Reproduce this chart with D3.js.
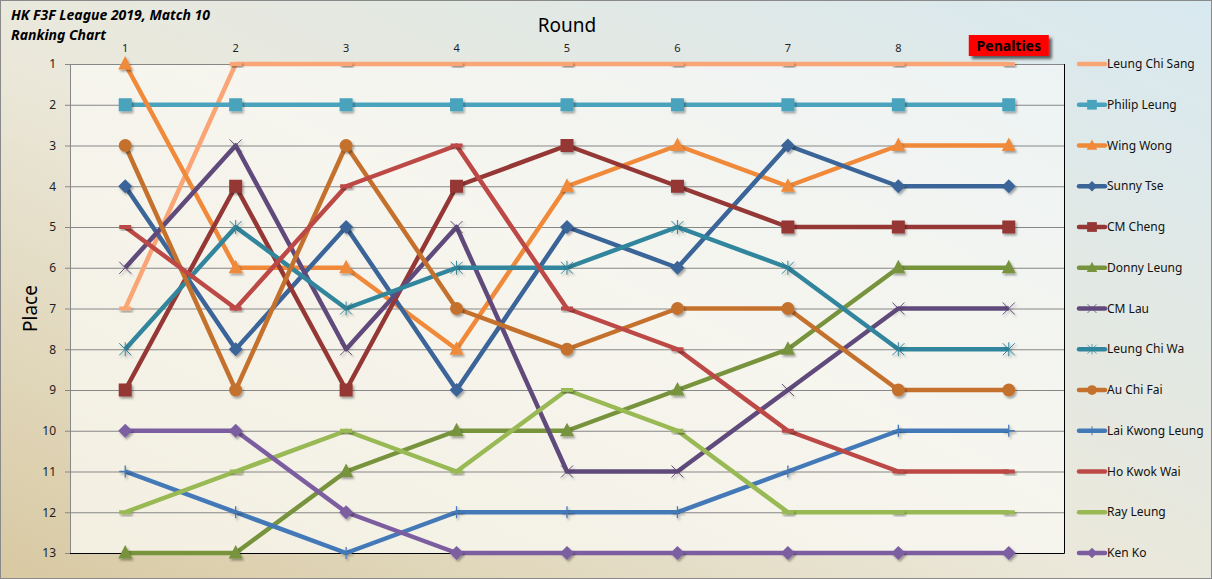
<!DOCTYPE html>
<meta charset="utf-8">
<script src="https://d3js.org/d3.v7.min.js"></script>
<style>
  body { margin: 0; }
  text { font-family: "Noto Sans", "DejaVu Sans", sans-serif; }
</style>
<div id="chart"></div>
<script>

// rounds shown along the top
var rounds = ["1", "2", "3", "4", "5", "6", "7", "8", "Penalties"]

// pilots, in legend order
var pilots = ["Leung Chi Sang", "Philip Leung", "Wing Wong", "Sunny Tse", "CM Cheng", "Donny Leung",
  "CM Lau", "Leung Chi Wa", "Au Chi Fai", "Lai Kwong Leung", "Ho Kwok Wai", "Ray Leung", "Ken Ko"]

// place after each round (last value = after penalties)
var leungChiSang  = [7, 1, 1, 1, 1, 1, 1, 1, 1]
var philipLeung   = [2, 2, 2, 2, 2, 2, 2, 2, 2]
var wingWong      = [1, 6, 6, 8, 4, 3, 4, 3, 3]
var sunnyTse      = [4, 8, 5, 9, 5, 6, 3, 4, 4]
var cmCheng       = [9, 4, 9, 4, 3, 4, 5, 5, 5]
var donnyLeung    = [13, 13, 11, 10, 10, 9, 8, 6, 6]
var cmLau         = [6, 3, 8, 5, 11, 11, 9, 7, 7]
var leungChiWa    = [8, 5, 7, 6, 6, 5, 6, 8, 8]
var auChiFai      = [3, 9, 3, 7, 8, 7, 7, 9, 9]
var laiKwongLeung = [11, 12, 13, 12, 12, 12, 11, 10, 10]
var hoKwokWai     = [5, 7, 4, 3, 7, 8, 10, 11, 11]
var rayLeung      = [12, 11, 10, 11, 9, 10, 12, 12, 12]
var kenKo         = [10, 10, 12, 13, 13, 13, 13, 13, 13]

var places = [1, 2, 3, 4, 5, 6, 7, 8, 9, 10, 11, 12, 13]

var seriesValues = [leungChiSang, philipLeung, wingWong, sunnyTse, cmCheng, donnyLeung,
  cmLau, leungChiWa, auChiFai, laiKwongLeung, hoKwokWai, rayLeung, kenKo]

var colors = ["#f9a575", "#4aa3bd", "#f08a3a", "#3b6598", "#953735", "#77933c",
  "#604a7b", "#31859c", "#c5712e", "#4479b8", "#bc4946", "#98b954", "#7c5ea0"]
var markers = ["dash", "square", "triangle", "diamond", "square", "triangle",
  "x", "star", "circle", "plus", "dash", "dash", "diamond"]

var width = 1212, height = 579
var plot = {left: 70, right: 1064, top: 64, bottom: 553}

var svg = d3.select("#chart").append("svg")
  .attr("width", width)
  .attr("height", height)

var defs = svg.append("defs")

// chart background
var bg = defs.append("linearGradient").attr("id", "bg")
  .attr("x1", "0").attr("y1", "1").attr("x2", "1").attr("y2", "0")
bg.append("stop").attr("offset", "0%").attr("stop-color", "#d8c9a2")
bg.append("stop").attr("offset", "45%").attr("stop-color", "#ebe8da")
bg.append("stop").attr("offset", "100%").attr("stop-color", "#d8e9f0")

var pg = defs.append("linearGradient").attr("id", "plotbg")
  .attr("x1", "0").attr("y1", "1").attr("x2", "1").attr("y2", "0")
pg.append("stop").attr("offset", "0%").attr("stop-color", "#f3efe1")
pg.append("stop").attr("offset", "55%").attr("stop-color", "#f6f5ee")
pg.append("stop").attr("offset", "100%").attr("stop-color", "#edf3f4")

var shadow = defs.append("filter").attr("id", "shadow")
  .attr("x", "-50%").attr("y", "-50%").attr("width", "200%").attr("height", "200%")
shadow.append("feDropShadow").attr("dx", 1.5).attr("dy", 2).attr("stdDeviation", 1.2)
  .attr("flood-color", "#000").attr("flood-opacity", 0.35)

var pshadow = defs.append("filter").attr("id", "pshadow")
  .attr("x", "-20%").attr("y", "-30%").attr("width", "150%").attr("height", "180%")
pshadow.append("feDropShadow").attr("dx", 3).attr("dy", 3).attr("stdDeviation", 1.5)
  .attr("flood-color", "#000").attr("flood-opacity", 0.6)

svg.append("rect")
  .attr("x", 0.5).attr("y", 0.5)
  .attr("width", width - 1).attr("height", height - 1)
  .attr("fill", "url(#bg)")
  .attr("stroke", "#8a8a8a")

svg.append("rect")
  .attr("x", plot.left).attr("y", plot.top)
  .attr("width", plot.right - plot.left).attr("height", plot.bottom - plot.top)
  .attr("fill", "url(#plotbg)")

// scales
var x = d3.scalePoint()
  .domain(rounds)
  .range([plot.left, plot.right])
  .padding(0.5)

var y = d3.scaleLinear()
  .domain([1, 13])
  .range([plot.top, plot.bottom])

// y axis with gridlines
var yAxis = svg.append("g")
  .attr("transform", "translate(" + plot.left + ",0)")
  .call(d3.axisLeft(y).tickValues(places).tickFormat(d3.format("d"))
    .tickSize(-(plot.right - plot.left)).tickPadding(14))
yAxis.select(".domain").remove()
yAxis.selectAll(".tick line").attr("stroke", "#878787")
yAxis.selectAll(".tick").append("line")
  .attr("x1", -5).attr("x2", 0).attr("stroke", "#878787")
yAxis.selectAll(".tick text")
  .attr("fill", "#222").style("font-size", "12px")

// plot border: gray left, black right and bottom
svg.append("line")
  .attr("x1", plot.left + 0.5).attr("x2", plot.left + 0.5)
  .attr("y1", plot.top).attr("y2", plot.bottom)
  .attr("stroke", "#878787")
svg.append("path")
  .attr("d", "M" + (plot.right + 0.5) + "," + plot.top + "V" + (plot.bottom + 0.5) + "H" + plot.left)
  .attr("fill", "none").attr("stroke", "#000")

// round labels along the top
svg.selectAll(".round")
  .data(rounds.filter(function(d) { return d != "Penalties" }))
  .enter().append("text")
    .attr("x", function(d) { return x(d) })
    .attr("y", 52)
    .attr("text-anchor", "middle")
    .style("font-size", "11px")
    .attr("fill", "#222")
    .text(function(d) { return d })

// penalties badge
svg.append("rect")
  .attr("x", x("Penalties") - 40).attr("y", 35)
  .attr("width", 80).attr("height", 21)
  .attr("fill", "#ff0000")
  .attr("filter", "url(#pshadow)")
svg.append("text")
  .attr("x", x("Penalties")).attr("y", 51)
  .attr("text-anchor", "middle")
  .style("font-size", "14px").style("font-weight", "bold")
  .text("Penalties")

// titles
svg.append("text").attr("x", 11).attr("y", 20)
  .style("font-size", "14px").style("font-weight", "bold").style("font-style", "italic")
  .text("HK F3F League 2019, Match 10")
svg.append("text").attr("x", 11).attr("y", 40)
  .style("font-size", "14px").style("font-weight", "bold").style("font-style", "italic")
  .text("Ranking Chart")
svg.append("text").attr("x", (plot.left + plot.right) / 2).attr("y", 32)
  .attr("text-anchor", "middle")
  .style("font-size", "19px")
  .text("Round")
svg.append("text")
  .attr("transform", "translate(37," + ((plot.top + plot.bottom) / 2) + ") rotate(-90)")
  .attr("text-anchor", "middle")
  .style("font-size", "19px")
  .text("Place")

// marker shapes
function drawMarker(g, type, color) {
  if (type == "square") {
    g.append("rect").attr("x", -6.5).attr("y", -6.5).attr("width", 13).attr("height", 13).attr("fill", color)
  } else if (type == "triangle") {
    g.append("path").attr("d", "M0,-8L7,5.5L-7,5.5Z").attr("fill", color)
  } else if (type == "diamond") {
    g.append("path").attr("d", "M0,-7L7,0L0,7L-7,0Z").attr("fill", color)
  } else if (type == "circle") {
    g.append("circle").attr("r", 6.5).attr("fill", color)
  } else if (type == "dash") {
    g.append("rect").attr("x", -6).attr("y", -2).attr("width", 12).attr("height", 4).attr("fill", color)
  } else if (type == "x") {
    g.append("path").attr("d", "M-6,-6L6,6M-6,6L6,-6").attr("stroke", color).attr("stroke-width", 1)
  } else if (type == "star") {
    g.append("path").attr("d", "M-6,-6L6,6M-6,6L6,-6M0,-7V7").attr("stroke", color).attr("stroke-width", 1)
  } else if (type == "plus") {
    g.append("path").attr("d", "M-6,0H6M0,-6V6").attr("stroke", color).attr("stroke-width", 1.3)
  }
}

var line = d3.line()
  .x(function(d, i) { return x(rounds[i]) })
  .y(function(d) { return y(d) })

var series = svg.selectAll(".series")
  .data(seriesValues)
  .enter().append("g")
    .attr("class", "series")

series.each(function(vals, s) {
  var g = d3.select(this)
  g.append("path")
    .attr("d", line(vals))
    .attr("fill", "none")
    .attr("stroke", colors[s])
    .attr("stroke-width", 4.5)
    .attr("stroke-linejoin", "round")
  vals.forEach(function(v, i) {
    var m = g.append("g")
      .attr("transform", "translate(" + x(rounds[i]) + "," + y(v) + ")")
      .attr("filter", "url(#shadow)")
    drawMarker(m, markers[s], colors[s])
  })
})

// legend, one row per place line
var legend = svg.selectAll(".legend")
  .data(pilots)
  .enter().append("g")
    .attr("class", "legend")
    .attr("transform", function(d, i) { return "translate(1077," + y(places[i]) + ")" })

legend.append("line")
  .attr("x1", 2).attr("x2", 28)
  .attr("stroke", function(d, i) { return colors[i] })
  .attr("stroke-width", 4.5)
  .attr("stroke-linecap", "round")
legend.each(function(d, i) {
  var m = d3.select(this).append("g").attr("transform", "translate(15,0) scale(0.75)")
  drawMarker(m, markers[i], colors[i])
})
legend.append("text")
  .attr("x", 30).attr("dy", "0.35em")
  .style("font-size", "12px")
  .attr("fill", "#111")
  .text(function(d) { return d })

</script>
